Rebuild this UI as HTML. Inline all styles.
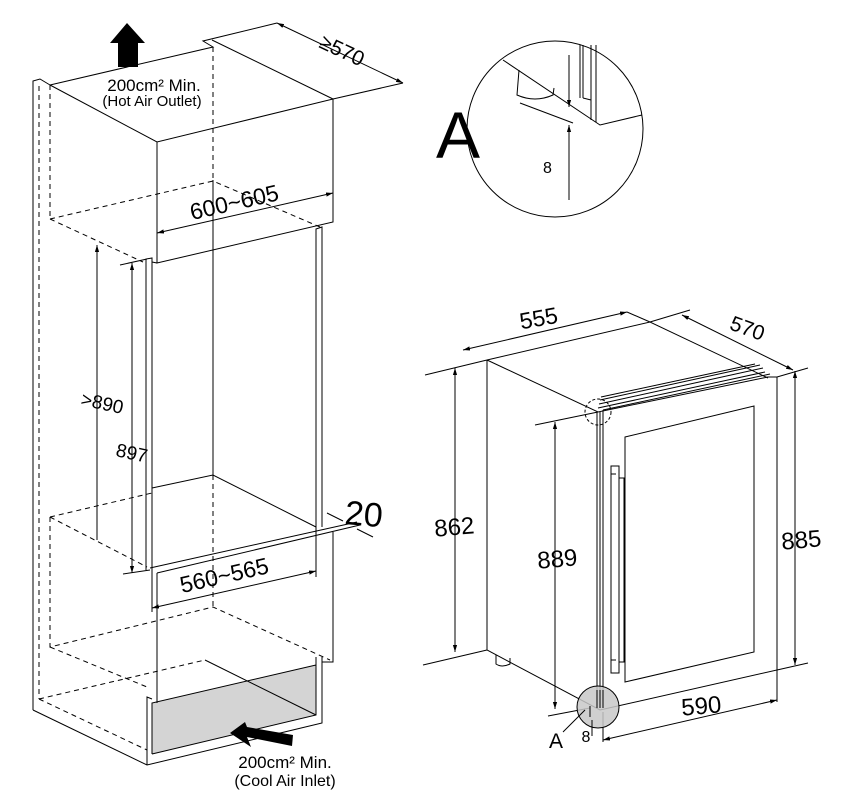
<!DOCTYPE html>
<html><head><meta charset="utf-8"><style>
html,body{margin:0;padding:0;background:#fff;width:867px;height:801px;overflow:hidden}
svg{display:block}
text{font-family:"Liberation Sans",sans-serif;fill:#000}
</style></head><body>
<svg width="867" height="801" viewBox="0 0 867 801" xmlns="http://www.w3.org/2000/svg">
<defs>
<marker id="ar" viewBox="0 0 10 10" refX="10" refY="5" markerWidth="7" markerHeight="7" orient="auto-start-reverse"><path d="M0,2 L10,5 L0,8 z" fill="#000"/></marker>
</defs>
<g stroke="#000" stroke-width="1" fill="none">
<polygon points="152,703 316,665 316,715 152,754" fill="#d4d4d4" stroke="none"/>
<path d="M33,710 V81 L40,79 L50,85"/>
<path d="M33,710 L147,765 L322,723 V657"/>
<path d="M147,765 V697 L152,699"/>
<path d="M152,754 V703 L316,665 M316,657 V715 L152,754"/>
<path d="M205,660 L316,715"/>
<path d="M50,85 L213,47 L203,41 L277,23 M212,40 L333,99 M50,85 L157,142 L333,99 V222 L157,263 V142"/>
<path d="M213,180 V475"/>
<path d="M146,570 V259 L152,258 V568 M152,262 L157,263"/>
<path d="M316,527 V229 L322,227 V527"/>
<path d="M152,488 L213,475 L316,527"/>
<path d="M150,568 L357,522 M157,573 L360,525"/>
<path d="M157,573 V703 M333,532 V662 L322,662 M316,662 L316,657"/>
<g stroke-dasharray="5,4">
<path d="M39,86 V699 M50,85 V219 M213,47 V180"/>
<path d="M50,219 L213,181 L320,227 M50,219 L143,262"/>
<path d="M50,517 L152,493 M50,517 L147,567 M50,517 V647 L213,607 L330,660 M50,647 L147,687"/>
<path d="M213,475 V607 M39,699 L205,660 M39,699 L147,750"/>
</g>
<path d="M97,540 V245" marker-end="url(#ar)"/>
<path d="M132,573 V263" marker-start="url(#ar)" marker-end="url(#ar)"/>
<path d="M120,265 L147,259 M123,574 L150,570"/>
<path d="M157,233 L333,193" marker-start="url(#ar)" marker-end="url(#ar)"/>
<path d="M277,23 L403,83" marker-start="url(#ar)" marker-end="url(#ar)"/>
<path d="M333,99 L403,83"/>
<path d="M152,568 V612 M316,527 V577"/>
<path d="M152,608 L316,571" marker-start="url(#ar)" marker-end="url(#ar)"/>
<path d="M327,513 L343,521 M357,529 L373,537"/>
</g>
<polygon points="127,23 145,43 138,43 138,67 118,67 118,43 110,43" fill="#000"/>
<polygon points="230,733 245,722 247,727 293,735 292,746 247,737 251,747" fill="#000"/>
<text x="154" y="91" font-size="17" text-anchor="middle">200cm² Min.</text>
<text x="152" y="106" font-size="15" text-anchor="middle">(Hot Air Outlet)</text>
<text x="285" y="768" font-size="17" text-anchor="middle">200cm² Min.</text>
<text x="285" y="786" font-size="16" text-anchor="middle">(Cool Air Inlet)</text>
<text x="318" y="47" font-size="21" transform="rotate(25 318 47)">≥570</text>
<text x="236" y="210" font-size="23" text-anchor="middle" transform="rotate(-13 236 210)">600~605</text>
<text x="226" y="583" font-size="23" text-anchor="middle" transform="rotate(-13 226 583)">560~565</text>
<text x="80" y="405" font-size="19" transform="rotate(12 80 405)">&gt;890</text>
<text x="115" y="456" font-size="19" transform="rotate(12 115 456)">897</text>
<text x="344" y="524" font-size="34" transform="rotate(5 344 524)">20</text>

<g stroke="#000" fill="none" stroke-width="1">
<circle cx="555" cy="129" r="88"/>
<path d="M503,60 L600,125 L642,115 M520,103 L573,123"/>
<path d="M580,45 V98 M583,45 V98 M591,45 V120 M596,45 V122 M583,98 L591,100"/>
<path d="M519,70 L517,95 Q535,103 553,95 L554,88"/>
<path d="M569,55 V107" marker-end="url(#ar)"/>
<path d="M569,200 V125" marker-end="url(#ar)"/>
</g>
<text x="436" y="158" font-size="66">A</text>
<text x="543" y="173" font-size="16">8</text>

<g stroke="#000" fill="none" stroke-width="1">
<path d="M487,360 V650 L600,710 L777,670 V377"/>
<path d="M487,360 L650,322 L768,378 M487,360 L598,412 L768,377 L777,377"/>
<path d="M597,412 V708 M600,412 V708 M603,410 V708"/>
<path d="M598,408 L765,372 M599,404 L763,368 M600,400 L760,365 M601,397 L755,364 M603,410 L770,374"/>
<path d="M625,437 L754,406 V652 L625,682 Z"/>
<path d="M611,466 H619 V673 H611 Z M611,474 H616 M611,660 H616 M619,478 H624 V662 H619"/>
<path d="M496,655 V664 Q502,668 510,664 V658"/>
<path d="M463,350 L627,312" marker-start="url(#ar)" marker-end="url(#ar)"/>
<path d="M627,312 L650,322 M650,322 L690,310"/>
<path d="M682,315 L793,370" marker-start="url(#ar)" marker-end="url(#ar)"/>
<path d="M425,375 L487,360 M423,665 L487,650"/>
<path d="M455,368 V652" marker-start="url(#ar)" marker-end="url(#ar)"/>
<path d="M535,425 L598,412 M548,716 L590,708"/>
<path d="M555,422 V709" marker-start="url(#ar)" marker-end="url(#ar)"/>
<path d="M777,377 L808,368 M777,670 L808,663"/>
<path d="M795,371 V665" marker-start="url(#ar)" marker-end="url(#ar)"/>
<path d="M603,712 V742"/>
<path d="M603,740 L777,700" marker-start="url(#ar)" marker-end="url(#ar)"/>
<path d="M777,670 V702"/>
<circle cx="598" cy="412" r="13" stroke-dasharray="3,2"/>
<circle cx="598" cy="707" r="21" fill="#c8c8c8" fill-opacity="0.85"/>
<path d="M597,690 V708 M600,690 V708 M603,690 V708 M590,706 V717 M592,720 V736"/>
<path d="M563,732 L585,710"/>
</g>
<text x="540" y="326" font-size="23" text-anchor="middle" transform="rotate(-10 540 326)">555</text>
<text x="745" y="335" font-size="21" text-anchor="middle" transform="rotate(20 745 335)">570</text>
<text x="455" y="535" font-size="24" text-anchor="middle" transform="rotate(-5 455 535)">862</text>
<text x="558" y="567" font-size="24" text-anchor="middle" transform="rotate(-5 558 567)">889</text>
<text x="802" y="548" font-size="24" text-anchor="middle" transform="rotate(-5 802 548)">885</text>
<text x="702" y="714" font-size="24" text-anchor="middle" transform="rotate(-5 702 714)">590</text>
<text x="556" y="748" font-size="21" text-anchor="middle">A</text>
<text x="586" y="742" font-size="16" text-anchor="middle">8</text>
</svg>
</body></html>
